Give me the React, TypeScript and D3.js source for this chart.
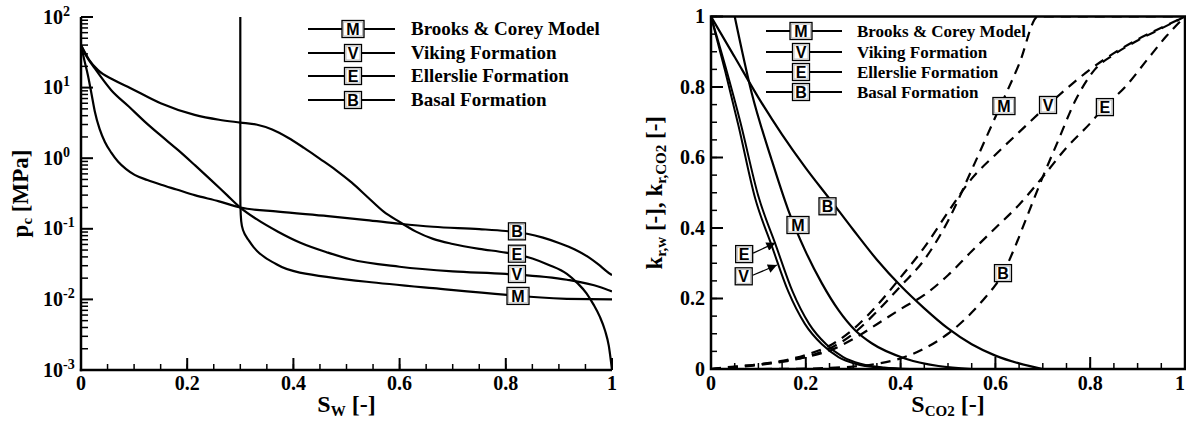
import * as d3 from "d3";

const W = 1186;
const H = 421;
const SERIF = "'Liberation Serif', 'Times New Roman', serif";
const SANS = "'Liberation Sans', Arial, sans-serif";

// legend
const legendKeys = ["M", "V", "E", "B"];
const legendNames = ["Brooks & Corey Model", "Viking Formation", "Ellerslie Formation", "Basal Formation"];

// left panel: capillary pressure pc [MPa] vs Sw
const pcE: [number, number][] = [
  [0, 40], [0.015, 25], [0.032, 17.7], [0.06, 13], [0.088, 10.3], [0.15, 6.0], [0.214, 4.1],
  [0.26, 3.5], [0.3, 3.2], [0.33, 3.0], [0.36, 2.55], [0.39, 1.95], [0.42, 1.4], [0.45, 0.98],
  [0.48, 0.68], [0.51, 0.45], [0.54, 0.28], [0.57, 0.175], [0.6, 0.125], [0.63, 0.092],
  [0.663, 0.072], [0.7, 0.061], [0.75, 0.052], [0.8, 0.046], [0.85, 0.038],
  [0.88, 0.031], [0.915, 0.023], [0.935, 0.017], [0.952, 0.0122], [0.965, 0.0085],
  [0.977, 0.0057], [0.987, 0.0036], [0.994, 0.0022], [1.0, 0.001],
];
const pcV: [number, number][] = [
  [0, 40], [0.01, 28], [0.026, 18.7], [0.057, 9.2], [0.09, 5.4], [0.12, 3.3], [0.15, 2.1],
  [0.183, 1.3], [0.215, 0.79], [0.245, 0.49], [0.275, 0.3], [0.3, 0.2], [0.33, 0.138],
  [0.371, 0.091], [0.412, 0.064], [0.465, 0.046], [0.507, 0.037], [0.6, 0.029], [0.7, 0.025],
  [0.8, 0.023], [0.915, 0.019], [0.977, 0.015], [1, 0.013],
];
const pcB: [number, number][] = [
  [0, 40], [0.006, 25], [0.013, 15], [0.02, 8], [0.026, 4.6], [0.035, 2.6], [0.045, 1.7],
  [0.057, 1.2], [0.07, 0.89], [0.085, 0.7], [0.101, 0.58], [0.125, 0.49], [0.151, 0.42],
  [0.18, 0.36], [0.214, 0.3], [0.26, 0.245], [0.3, 0.2], [0.371, 0.175], [0.465, 0.151],
  [0.538, 0.133], [0.6, 0.118], [0.663, 0.107], [0.75, 0.099], [0.8, 0.093], [0.84, 0.085],
  [0.87, 0.075], [0.9, 0.063], [0.93, 0.051], [0.955, 0.04], [0.975, 0.031], [0.99, 0.025],
  [1, 0.022],
];
const pcM: [number, number][] = [
  [0.3, 100], [0.3, 0.3], [0.3008, 0.16], [0.303, 0.11], [0.308, 0.085], [0.315, 0.07],
  [0.325, 0.055], [0.336, 0.045], [0.36, 0.034], [0.412, 0.024], [0.538, 0.0178],
  [0.663, 0.0144], [0.802, 0.0116], [0.915, 0.0102], [1, 0.01],
];
const pcLabels: [string, number, number][] = [
  ["B", 0.821, 0.092], ["E", 0.821, 0.0444], ["V", 0.821, 0.0229], ["M", 0.823, 0.0112],
];

// right panel: relative permeability of water (solid) and CO2 (dashed) vs S_CO2
const krwM: [number, number][] = [
  [0.05, 1.0], [0.086, 0.782], [0.128, 0.593], [0.163, 0.451], [0.198, 0.338], [0.234, 0.243],
  [0.269, 0.167], [0.304, 0.11], [0.339, 0.073], [0.409, 0.03], [0.48, 0.0085], [0.55, 0],
];
const krwV: [number, number][] = [
  [0, 1], [0.03, 0.845], [0.058, 0.69], [0.093, 0.485], [0.128, 0.35], [0.163, 0.22],
  [0.198, 0.128], [0.234, 0.07], [0.269, 0.034], [0.304, 0.015], [0.352, 0.004], [0.4, 0],
];
const krwE: [number, number][] = [
  [0, 1], [0.03, 0.86], [0.062, 0.7], [0.1, 0.49], [0.137, 0.35], [0.172, 0.22],
  [0.207, 0.128], [0.243, 0.07], [0.279, 0.034], [0.315, 0.015], [0.365, 0.004], [0.42, 0],
];
const krwB: [number, number][] = [
  [0, 1], [0.05, 0.885], [0.1, 0.77], [0.15, 0.665], [0.2, 0.57], [0.25, 0.483], [0.3, 0.395],
  [0.35, 0.31], [0.4, 0.236], [0.45, 0.172], [0.5, 0.115], [0.55, 0.07], [0.6, 0.038],
  [0.65, 0.016], [0.7, 0],
];
const krgM: [number, number][] = [
  [0, 0], [0.05, 0.005], [0.1, 0.011], [0.15, 0.02], [0.2, 0.034], [0.25, 0.058], [0.3, 0.1],
  [0.35, 0.163], [0.4, 0.235], [0.45, 0.31], [0.5, 0.42], [0.55, 0.565], [0.6, 0.715],
  [0.65, 0.865], [0.69, 1], [1, 1],
];
const krgV: [number, number][] = [
  [0, 0], [0.05, 0.006], [0.1, 0.013], [0.15, 0.023], [0.2, 0.04], [0.25, 0.066], [0.3, 0.113],
  [0.35, 0.18], [0.4, 0.26], [0.45, 0.345], [0.5, 0.445], [0.55, 0.54], [0.6, 0.608],
  [0.65, 0.672], [0.711, 0.749], [0.75, 0.795], [0.8, 0.85], [0.85, 0.896], [0.9, 0.935],
  [0.95, 0.968], [1, 1],
];
const krgE: [number, number][] = [
  [0, 0], [0.05, 0.007], [0.1, 0.013], [0.15, 0.022], [0.2, 0.034], [0.25, 0.052], [0.3, 0.085],
  [0.35, 0.127], [0.4, 0.17], [0.45, 0.21], [0.5, 0.266], [0.55, 0.334], [0.6, 0.4],
  [0.65, 0.466], [0.7, 0.545], [0.75, 0.628], [0.8, 0.697], [0.828, 0.74], [0.877, 0.805],
  [0.92, 0.877], [0.96, 0.943], [1, 1],
];
const krgB: [number, number][] = [
  [0, 0], [0.1, 0], [0.2, 0.001], [0.25, 0.003], [0.3, 0.007], [0.35, 0.015], [0.4, 0.03],
  [0.45, 0.058], [0.5, 0.1], [0.55, 0.16], [0.58, 0.205], [0.6, 0.238], [0.617, 0.274],
  [0.64, 0.342], [0.666, 0.43], [0.7, 0.545], [0.73, 0.64], [0.77, 0.765], [0.81, 0.85],
  [0.85, 0.892], [0.9, 0.932], [0.95, 0.966], [1, 1],
];
const krLabels: [string, number, number][] = [
  ["M", 0.1835, 0.4085], ["B", 0.2458, 0.4616],
  ["M", 0.618, 0.746], ["V", 0.711, 0.749], ["E", 0.831, 0.743], ["B", 0.616, 0.272],
];
// labels with arrows: [key, labelS, labelK, tipS, tipK]
const krArrows: [string, number, number, number, number][] = [
  ["E", 0.07, 0.326, 0.136, 0.358],
  ["V", 0.069, 0.263, 0.139, 0.295],
];

const linTickLabels = ["0", "0.2", "0.4", "0.6", "0.8", "1"];
const logTickExps = ["-3", "-2", "-1", "0", "1", "2"];

// scales
const xL = d3.scaleLinear().domain([0, 1]).range([81, 612]);
const yL = d3.scaleLog().domain([1e-3, 1e2]).range([370, 17]);
const xR = d3.scaleLinear().domain([0, 1]).range([711, 1185]);
const yR = d3.scaleLinear().domain([0, 1]).range([369, 16.5]);

const lineL = d3.line<[number, number]>().x(d => xL(d[0])).y(d => yL(d[1])).curve(d3.curveMonotoneX);
const lineLM = d3.line<[number, number]>().x(d => xL(d[0])).y(d => yL(d[1])).curve(d3.curveMonotoneY);
const lineR = d3.line<[number, number]>().x(d => xR(d[0])).y(d => yR(d[1])).curve(d3.curveMonotoneX);

function LetterBox({ x, y, k, size = 16 }: { x: number; y: number; k: string; size?: number }) {
  const w = k === "M" ? 22 : 17;
  return (
    <g>
      <rect x={x - w / 2} y={y - 8.5} width={w} height={17} fill="#fff" stroke="#000" strokeWidth={1.3} />
      <rect x={x - w / 2 + 1.5} y={y - 7} width={w - 3} height={14} fill="none" stroke="#aaa" strokeWidth={0.8} />
      <text x={x} y={y + 6} textAnchor="middle" fontFamily={SANS} fontWeight="bold" fontSize={size}>{k}</text>
    </g>
  );
}

function Legend({ x0, x1, xb, xt, ys, fs }: { x0: number; x1: number; xb: number; xt: number; ys: number[]; fs: number }) {
  return (
    <g>
      {legendKeys.map((k, i) => (
        <g key={k}>
          <line x1={x0} x2={x1} y1={ys[i]} y2={ys[i]} stroke="#000" strokeWidth={2} />
          <LetterBox x={xb} y={ys[i]} k={k} />
          <text x={xt} y={ys[i] + fs * 0.33} fontFamily={SERIF} fontWeight="bold" fontSize={fs}>{legendNames[i]}</text>
        </g>
      ))}
    </g>
  );
}

export default function App() {
  const yLAll = yL.ticks();
  const yLMajor = d3.range(-3, 3).map(e => Math.pow(10, e));
  const xMinor = xL.ticks(20);
  const xMajor = xL.ticks(5);
  const yRMinor = yR.ticks(20);
  const yRMajor = yR.ticks(5);

  return (
    <svg width={W} height={H} style={{ position: "absolute", left: 0, top: 0, background: "#fff" }}>
      <defs>
        <clipPath id="clipL"><rect x={81} y={17} width={531} height={353} /></clipPath>
        <clipPath id="clipR"><rect x={711} y={16.5} width={474} height={352.5} /></clipPath>
        <marker id="arr" viewBox="0 0 10 10" refX={10} refY={5} markerWidth={13} markerHeight={9}
          orient="auto" markerUnits="userSpaceOnUse">
          <path d="M0,0 L10,5 L0,10 z" fill="#000" />
        </marker>
      </defs>

      {/* ---------- left panel ---------- */}
      <g clipPath="url(#clipL)" fill="none" stroke="#000" strokeWidth={2.2}>
        <path d={lineL(pcE) || ""} />
        <path d={lineL(pcV) || ""} />
        <path d={lineL(pcB) || ""} />
        <path d={lineLM(pcM) || ""} />
      </g>
      {pcLabels.map(([k, s, p]) => (
        <LetterBox key={"pl" + k} x={xL(s)} y={yL(p)} k={k} />
      ))}

      {/* axes */}
      <g stroke="#000">
        {yLAll.map(v => {
          const major = yLMajor.some(m => Math.abs(m - v) / m < 1e-6);
          return <line key={"yl" + v} x1={81} x2={81 + (major ? 12 : 7)} y1={yL(v)} y2={yL(v)} strokeWidth={major ? 2 : 1.5} />;
        })}
        {xMinor.map(v => (
          <line key={"xl" + v} x1={xL(v)} x2={xL(v)} y1={370} y2={370 - 6} strokeWidth={1.5} />
        ))}
        {xMajor.map(v => (
          <line key={"xL" + v} x1={xL(v)} x2={xL(v)} y1={370} y2={370 - 12} strokeWidth={2} />
        ))}
        <line x1={81} x2={81} y1={17} y2={371.2} strokeWidth={2.5} />
        <line x1={79.8} x2={612} y1={370} y2={370} strokeWidth={2.5} />
      </g>
      <g fontFamily={SERIF} fontWeight="bold" fontSize={20}>
        {yLMajor.map((v, i) => (
          <text key={"ylt" + i} x={43} y={yL(v) + 6.5}>
            10<tspan dy={-8} fontSize={14}>{logTickExps[i]}</tspan>
          </text>
        ))}
        {xMajor.map((v, i) => (
          <text key={"xlt" + i} x={xL(v)} y={390} textAnchor="middle">{linTickLabels[i]}</text>
        ))}
        <text x={xL(0.5)} y={412} textAnchor="middle" fontSize={24}>
          S<tspan dy={4} fontSize={15}>W</tspan><tspan dy={-4}> [-]</tspan>
        </text>
        <text transform={`translate(28,${(17 + 370) / 2}) rotate(-90)`} textAnchor="middle" fontSize={23}>
          p<tspan dy={4} fontSize={15}>c</tspan><tspan dy={-4}> [MPa]</tspan>
        </text>
      </g>
      <Legend x0={308} x1={395} xb={353} xt={411} ys={[29, 53, 76, 100]} fs={19} />

      {/* ---------- right panel ---------- */}
      <g clipPath="url(#clipR)" fill="none" stroke="#000" strokeWidth={2.2}>
        <path d={lineR(krwM) || ""} />
        <path d={lineR(krwV) || ""} strokeWidth={2} />
        <path d={lineR(krwE) || ""} strokeWidth={2} />
        <path d={lineR(krwB) || ""} />
        <g strokeDasharray="10,7">
          <path d={lineR(krgM) || ""} />
          <path d={lineR(krgV) || ""} />
          <path d={lineR(krgE) || ""} />
          <path d={lineR(krgB) || ""} />
        </g>
      </g>
      {krArrows.map(([k, ls, lk, ts, tk]) => (
        <line key={"ar" + k} x1={xR(ls) + 9} y1={yR(lk) - 1} x2={xR(ts)} y2={yR(tk)}
          stroke="#000" strokeWidth={1.2} markerEnd="url(#arr)" />
      ))}
      {krArrows.map(([k, ls, lk]) => (
        <LetterBox key={"arl" + k} x={xR(ls)} y={yR(lk)} k={k} />
      ))}
      {krLabels.map(([k, s, v], i) => (
        <LetterBox key={"kl" + i} x={xR(s)} y={yR(v)} k={k} />
      ))}

      <g stroke="#000">
        {yRMinor.map(v => (
          <line key={"yr" + v} x1={711} x2={711 + 6} y1={yR(v)} y2={yR(v)} strokeWidth={1.5} />
        ))}
        {yRMajor.map(v => (
          <line key={"yR" + v} x1={711} x2={711 + 12} y1={yR(v)} y2={yR(v)} strokeWidth={2} />
        ))}
        {xR.ticks(20).map(v => (
          <line key={"xr" + v} x1={xR(v)} x2={xR(v)} y1={369} y2={369 - 6} strokeWidth={1.5} />
        ))}
        {xR.ticks(5).map(v => (
          <line key={"xR" + v} x1={xR(v)} x2={xR(v)} y1={369} y2={369 - 12} strokeWidth={2} />
        ))}
        <rect x={711} y={16.5} width={474} height={352.5} fill="none" strokeWidth={2.5} />
      </g>
      <g fontFamily={SERIF} fontWeight="bold" fontSize={20}>
        {yRMajor.map((v, i) => (
          <text key={"yrt" + i} x={705} y={yR(v) + 6.5} textAnchor="end">{linTickLabels[i]}</text>
        ))}
        {xR.ticks(5).map((v, i) => (
          <text key={"xrt" + i} x={i === 5 ? W - 1 : xR(v)} y={390} textAnchor={i === 5 ? "end" : "middle"}>
            {linTickLabels[i]}
          </text>
        ))}
        <text x={xR(0.5)} y={412} textAnchor="middle" fontSize={24}>
          S<tspan dy={4} fontSize={15}>CO2</tspan><tspan dy={-4}> [-]</tspan>
        </text>
        <text transform={`translate(662,${(16.5 + 369) / 2}) rotate(-90)`} textAnchor="middle" fontSize={23}>
          k<tspan dy={4} fontSize={15}>r,w</tspan><tspan dy={-4}> [-], k</tspan>
          <tspan dy={4} fontSize={15}>r,CO2</tspan><tspan dy={-4}> [-]</tspan>
        </text>
      </g>
      <Legend x0={766} x1={842} xb={801} xt={857} ys={[31, 52, 72, 92]} fs={17} />
    </svg>
  );
}
